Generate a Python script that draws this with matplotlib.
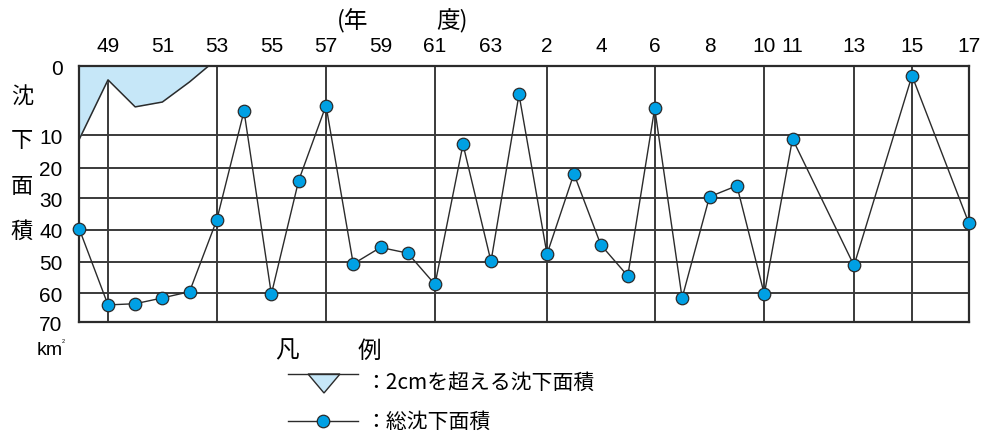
import matplotlib.pyplot as plt
import matplotlib.patches as mpatches
from matplotlib.lines import Line2D
import numpy as np

# data (fiscal year, km2 of subsidence area)
years = [1973, 1974, 1975, 1976, 1977, 1978, 1979, 1980, 1981, 1982,
         1983, 1984, 1985, 1986, 1987, 1988, 1989, 1990, 1991, 1992,
         1993, 1994, 1995, 1996, 1997, 1998, 1999, 2001, 2003, 2005]
total_area = [39.7, 64.0, 63.6, 61.6, 59.5, 36.9, 6.5, 60.3, 24.2, 5.7,
              50.7, 45.5, 47.3, 57.2, 12.8, 49.9, 4.1, 47.6, 22.0, 44.7,
              54.5, 6.1, 61.6, 29.5, 25.9, 60.3, 11.1, 51.2, 1.4, 37.7]
# area over 2cm (drawn down from the top edge)
over2_years = [1973, 1974, 1975, 1976, 1977, 1977.7]
over2_area = [11.2, 2.0, 5.9, 5.2, 2.3, 0.0]

tick_years = [1974, 1976, 1978, 1980, 1982, 1984, 1986, 1988, 1990, 1992,
              1994, 1996, 1998, 1999, 2001, 2003, 2005]
tick_labels = ['49', '51', '53', '55', '57', '59', '61', '63', '2', '4',
               '6', '8', '10', '11', '13', '15', '17']
vline_years = [1974, 1978, 1982, 1986, 1990, 1994, 1998, 2001, 2003]
y_ticks = [0, 10, 20, 30, 40, 50, 60, 70]

# the drawing is not evenly spaced; piecewise scales follow it
xk = [1973, 1974, 1978, 1982, 1986, 1990, 1994, 1998, 1999, 2001, 2003, 2005]
xp = [79.3, 108, 216.7, 326, 435, 547, 654.7, 764.3, 792.5, 854, 912, 968.7]
yk = [0, 10, 20, 30, 40, 50, 60, 70]
yp = [67, 136.3, 168.7, 199.3, 231, 262.7, 294.3, 323.3]


def pw(a, k, p):
    a = np.asarray(a, dtype=float)
    out = np.interp(a, k, p)
    lo = (p[1] - p[0]) / (k[1] - k[0])
    hi = (p[-1] - p[-2]) / (k[-1] - k[-2])
    out = np.where(a < k[0], p[0] + (a - k[0]) * lo, out)
    out = np.where(a > k[-1], p[-1] + (a - k[-1]) * hi, out)
    return out


line_c = '#2b2b2b'
grid_c = '#3a3a3a'
dot_c = '#00a0e4'
fill_c = '#c6e7f8'
num_font = ['Liberation Sans Narrow', 'Liberation Sans', 'DejaVu Sans']
jp_font = ['Noto Sans CJK JP', 'DejaVu Sans']

plt.rcParams['font.family'] = num_font

W, H = 981, 439
fig = plt.figure(figsize=(W / 100, H / 100), dpi=100)
ax = fig.add_axes([79.3 / W, 1 - 323.3 / H, (968.7 - 79.3) / W, (323.3 - 67) / H])

ax.set_xscale('function', functions=(lambda a: pw(a, xk, xp), lambda a: pw(a, xp, xk)))
ax.set_yscale('function', functions=(lambda a: pw(a, yk, yp), lambda a: pw(a, yp, yk)))
ax.set_xlim(1973, 2005)
ax.set_ylim(70, 0)

for v in y_ticks[1:-1]:
    ax.axhline(v, color=grid_c, lw=1.4, zorder=1)
for yr in vline_years:
    ax.axvline(yr, color=grid_c, lw=1.4, zorder=1)

ax.fill_between(over2_years, 0, over2_area, color=fill_c, lw=0, zorder=2)
ax.plot(over2_years, over2_area, color=line_c, lw=1.1, zorder=3)

ax.plot(years, total_area, color=line_c, lw=1.0, marker='o', ms=9,
        mfc=dot_c, mec=line_c, mew=0.9, zorder=4, clip_on=False)

ax.xaxis.tick_top()
ax.set_xticks(tick_years)
ax.set_xticklabels(tick_labels, fontsize=15)
ax.set_yticks(y_ticks)
ax.set_yticklabels([str(v) for v in y_ticks], fontsize=15)
ax.tick_params(axis='x', length=0, pad=8)
ax.tick_params(axis='y', length=0, pad=12)
ax.minorticks_off()
for s in ax.spines.values():
    s.set_color(line_c)
    s.set_linewidth(1.6)

# overlay in pixel coordinates for the labels and the hand-made legend
ov = fig.add_axes([0, 0, 1, 1], zorder=-1)
ov.set_xlim(0, W)
ov.set_ylim(H, 0)
ov.axis('off')

ov.text(337, 21, '(年', fontsize=17, family=jp_font, va='center', ha='left')
ov.text(468, 21, '度)', fontsize=17, family=jp_font, va='center', ha='right')
for ch, yy in zip('沈下面積', [97, 141, 187, 231]):
    ov.text(22, yy, ch, fontsize=16, family=jp_font, ha='center', va='center')
ov.text(37, 351, 'km', fontsize=14, family=num_font, ha='left', va='center')
ov.text(62, 342, '2', fontsize=4, family=num_font, ha='left', va='center')

ov.text(287, 351, '凡', fontsize=17, family=jp_font, ha='center', va='center')
ov.text(369, 351, '例', fontsize=17, family=jp_font, ha='center', va='center')

ov.add_line(Line2D([288, 358], [375, 375], color=line_c, lw=1.0))
ov.add_patch(mpatches.Polygon([[308, 375], [340, 375], [324, 394]], closed=True,
                              fc=fill_c, ec=line_c, lw=1.0))
ov.text(365, 383, '：2cmを超える沈下面積', fontsize=15, family=jp_font, va='center', ha='left')

ov.add_line(Line2D([288, 358], [422, 422], color=line_c, lw=1.0))
ov.plot([323], [422], marker='o', ms=9, mfc=dot_c, mec=line_c, mew=0.9)
ov.text(365, 422, '：総沈下面積', fontsize=15, family=jp_font, va='center', ha='left')

fig.savefig('out.png', dpi=100)
